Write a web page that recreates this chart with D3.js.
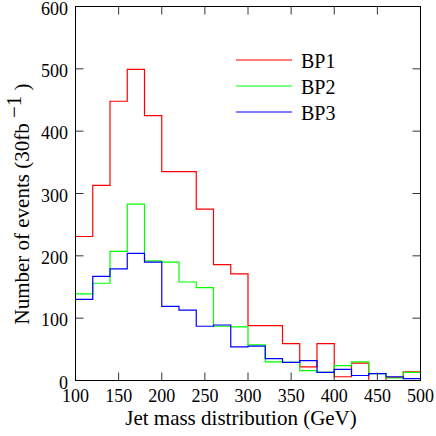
<!DOCTYPE html>
<html>
<head>
<meta charset="utf-8">
<script src="https://cdn.jsdelivr.net/npm/d3@7"></script>
<style>
  body { margin: 0; background: #fff; }
  svg text { font-family: "Liberation Serif", "Times New Roman", serif; fill: #000; }
</style>
</head>
<body>
<svg id="chart" width="436" height="436"></svg>
<script>
// bin edges: 100..500 GeV in steps of 20
var binStarts = [100, 120, 140, 160, 180, 200, 220, 240, 260, 280, 300, 320, 340, 360, 380, 400, 420, 440, 460, 480];
var binWidth = 20;

var bp1 = [231, 313, 448, 499, 425, 335, 335, 275, 186, 171, 88, 88, 59, 22, 59, 6, 28, 0, 5, 14];
var bp2 = [139, 156, 207, 283, 192, 190, 158, 149, 87, 86, 57, 30, 29, 16, 13, 24, 30, 11, 4, 13];
var bp3 = [130, 167, 179, 204, 190, 119, 113, 87, 89, 54, 55, 35, 29, 32, 13, 18, 8, 11, 6, 3];

var seriesNames = ['BP1', 'BP2', 'BP3'];
var seriesColors = ['#ff0000', '#00ff00', '#0000ff'];

var xTicks = [100, 150, 200, 250, 300, 350, 400, 450, 500];
var yTicks = [0, 100, 200, 300, 400, 500, 600];

var svg = d3.select('#chart');
// plot box edges (note: "top" is reserved on window, so prefixed names)
var plotL = 75.5, plotR = 420.5, plotT = 6.5, plotB = 380.5;

var x = d3.scaleLinear().domain([100, 500]).range([plotL, plotR]);
var y = d3.scaleLinear().domain([0, 600]).range([plotB, plotT]);

function stepPoints(vals) {
  var pts = binStarts.map(function(b, i) { return [b, vals[i]]; });
  pts.push([binStarts[binStarts.length - 1] + binWidth, vals[vals.length - 1]]);
  return pts;
}

var line = d3.line()
  .x(function(d) { return x(d[0]); })
  .y(function(d) { return y(d[1]); })
  .curve(d3.curveStepAfter);

var plot = svg.append('g');
[bp1, bp2, bp3].forEach(function(vals, i) {
  plot.append('path')
    .attr('d', line(stepPoints(vals)))
    .attr('fill', 'none')
    .attr('stroke', seriesColors[i])
    .attr('stroke-width', 1.2);
});

// frame
svg.append('rect')
  .attr('x', plotL).attr('y', plotT)
  .attr('width', plotR - plotL).attr('height', plotB - plotT)
  .attr('fill', 'none').attr('stroke', '#000').attr('stroke-width', 1);

// inward ticks on all four sides
var tickLen = 8;
xTicks.slice(1, -1).forEach(function(t) {
  svg.append('line').attr('x1', x(t)).attr('x2', x(t)).attr('y1', plotB).attr('y2', plotB - tickLen).attr('stroke', '#333');
  svg.append('line').attr('x1', x(t)).attr('x2', x(t)).attr('y1', plotT).attr('y2', plotT + tickLen).attr('stroke', '#333');
});
yTicks.slice(1, -1).forEach(function(t) {
  svg.append('line').attr('y1', y(t)).attr('y2', y(t)).attr('x1', plotL).attr('x2', plotL + tickLen).attr('stroke', '#333');
  svg.append('line').attr('y1', y(t)).attr('y2', y(t)).attr('x1', plotR).attr('x2', plotR - tickLen).attr('stroke', '#333');
});

// tick labels
svg.selectAll('.xl').data(xTicks).enter().append('text')
  .attr('x', function(d) { return x(d); })
  .attr('y', 402)
  .attr('text-anchor', 'middle')
  .style('font-size', '18px')
  .text(function(d) { return d; });

svg.selectAll('.yl').data(yTicks).enter().append('text')
  .attr('x', 68)
  .attr('y', function(d) { return y(d) + 8; })
  .attr('text-anchor', 'end')
  .style('font-size', '18px')
  .text(function(d) { return d; });

// axis titles
svg.append('text')
  .attr('x', 241).attr('y', 425)
  .attr('text-anchor', 'middle')
  .style('font-size', '21px')
  .text('Jet mass distribution (GeV)');

var yt = svg.append('text')
  .attr('transform', 'translate(29,204) rotate(-90)')
  .attr('text-anchor', 'middle')
  .style('font-size', '21px');
yt.append('tspan').text('Number of events (30fb ');
yt.append('tspan').attr('dy', -8).text('\u22121');
yt.append('tspan').attr('dy', 8).text(' )');

// legend
seriesNames.forEach(function(name, i) {
  var ly = 60 + i * 26;
  svg.append('line')
    .attr('x1', 236).attr('x2', 292).attr('y1', ly).attr('y2', ly)
    .attr('stroke', seriesColors[i]).attr('stroke-width', 1.2);
  svg.append('text')
    .attr('x', 301).attr('y', ly + 8)
    .style('font-size', '20px')
    .text(name);
});
</script>
</body>
</html>
